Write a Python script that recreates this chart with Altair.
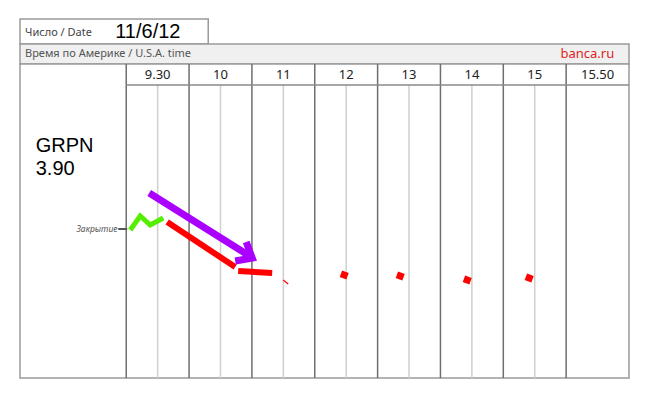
import altair as alt
import pandas as pd

# ---- data (x in hour-column units, y in chart rows from top) ----
col_labels = ["9.30", "10", "11", "12", "13", "14", "15", "15.50"]
col_bounds = [0, 1, 2, 3, 4, 5, 6, 7]
half_lines = [0.5, 1.5, 2.5, 3.5, 4.5, 5.5, 6.5]

green_x = [0.064, 0.223, 0.382, 0.589]
green_y = [211, 197, 206, 199]

red1_x = [0.652, 1.734]
red1_y = [203, 248]
red2_x = [1.782, 2.323]
red2_y = [252, 254]
red_thin_x = [2.498, 2.578]
red_thin_y = [261, 265]

purple_x = [0.366, 1.989]
purple_y = [174, 238]
head_x = [1.909, 2.005, 1.734]
head_y = [223, 239, 242]

square_x = [3.469, 4.36, 5.426, 6.412]
square_y = [256, 257, 261, 259]

ticker = "GRPN"
close_price = "3.90"
date_text = "11/6/12"

XMIN, XMAX = -1.69, 8.0
YMIN, YMAX = 0, 359

xs = alt.Scale(domain=[XMIN, XMAX], nice=False, zero=False)
ys = alt.Scale(domain=[YMIN, YMAX], nice=False, zero=False, reverse=True)


def X(f="x"):
    return alt.X(f"{f}:Q", scale=xs, axis=None)


def Y(f="y"):
    return alt.Y(f"{f}:Q", scale=ys, axis=None)


# frames
rects = pd.DataFrame([
    {"x": XMIN, "x2": 1.305, "y": 0, "y2": 25, "fill": "#ffffff"},
    {"x": XMIN, "x2": XMAX, "y": 25, "y2": 45, "fill": "#f0f0f0"},
    {"x": XMIN, "x2": XMAX, "y": 45, "y2": 359, "fill": "#ffffff"},
])
rect_layer = alt.Chart(rects).mark_rect(stroke="#9a9a9a", strokeWidth=1.5).encode(
    x=X(), x2="x2:Q", y=Y(), y2="y2:Q",
    fill=alt.Fill("fill:N", scale=None),
)

dark = pd.DataFrame({"x": col_bounds, "y": 45, "y2": 359})
dark_layer = alt.Chart(dark).mark_rule(color="#6e6e6e", strokeWidth=1.5).encode(
    x=X(), y=Y(), y2="y2:Q")

light = pd.DataFrame({"x": half_lines, "y": 66, "y2": 359})
light_layer = alt.Chart(light).mark_rule(color="#cfcfcf", strokeWidth=1.5).encode(
    x=X(), y=Y(), y2="y2:Q")

hline = pd.DataFrame({"x": [0], "x2": [XMAX], "y": [66]})
hline_layer = alt.Chart(hline).mark_rule(color="#8a8a8a", strokeWidth=1.5).encode(
    x=X(), x2="x2:Q", y=Y())

labels = pd.DataFrame({"x": [b + 0.5 for b in col_bounds], "y": 56, "t": col_labels})
label_layer = alt.Chart(labels).mark_text(
    font="Noto Sans", fontSize=13, color="#222222", baseline="middle", align="center"
).encode(x=X(), y=Y(), text="t:N")

texts = pd.DataFrame([
    {"x": -1.61, "y": 13.5, "t": "Число / Date", "s": 11, "c": "#444444", "f": "Noto Sans"},
    {"x": -0.175, "y": 12.5, "t": date_text, "s": 20, "c": "#000000", "f": "Liberation Sans"},
    {"x": -1.61, "y": 35, "t": "Время по Америке / U.S.A. time", "s": 11, "c": "#555555", "f": "Noto Sans"},
])
text_layers = []
for _, r in texts.iterrows():
    text_layers.append(
        alt.Chart(pd.DataFrame([r])).mark_text(
            font=r["f"], fontSize=int(r["s"]), color=r["c"], align="left", baseline="middle"
        ).encode(x=X(), y=Y(), text="t:N")
    )

brand = alt.Chart(pd.DataFrame({"x": [7.765], "y": [35], "t": ["banca.ru"]})).mark_text(
    font="Noto Sans", fontSize=13, color="#e2231a", align="right", baseline="middle"
).encode(x=X(), y=Y(), text="t:N")

ticker_layer = alt.Chart(pd.DataFrame({"x": [-1.44, -1.44], "y": [133, 156],
                                       "t": [ticker, close_price]})).mark_text(
    font="Liberation Sans", fontSize=20, color="#000000", align="left", baseline="alphabetic"
).encode(x=X(), y=Y(), text="t:N")

close_lbl = alt.Chart(pd.DataFrame({"x": [-0.14], "y": [210], "t": ["Закрытие"]})).mark_text(
    font="Noto Sans", fontSize=8.5, fontStyle="italic", color="#555555", align="right", baseline="middle"
).encode(x=X(), y=Y(), text="t:N")

close_tick = alt.Chart(pd.DataFrame({"x": [-0.127], "x2": [0.016], "y": [210]})).mark_rule(
    color="#555555", strokeWidth=2).encode(x=X(), x2="x2:Q", y=Y())


def line(xv, yv, color, w, cap="butt"):
    df = pd.DataFrame({"x": xv, "y": yv, "o": list(range(len(xv)))})
    return alt.Chart(df).mark_line(color=color, strokeWidth=w, strokeCap=cap,
                                   strokeJoin="miter").encode(
        x=X(), y=Y(), order="o:Q")


green = line(green_x, green_y, "#55ee00", 5)
red1 = line(red1_x, red1_y, "#ff0000", 6)
red2 = line(red2_x, red2_y, "#ff0000", 6)
red3 = line(red_thin_x, red_thin_y, "#ff0000", 1.2)
purple = line(purple_x, purple_y, "#aa00ff", 7)
head = line(head_x, head_y, "#aa00ff", 7)

squares = alt.Chart(pd.DataFrame({"x": square_x, "y": square_y})).mark_point(
    shape="square", filled=True, color="#ff0000", size=50, angle=20, opacity=1
).encode(x=X(), y=Y())

chart = alt.layer(
    rect_layer, light_layer, dark_layer, hline_layer, label_layer, *text_layers, brand,
    ticker_layer, close_lbl, close_tick, green, red1, red2, red3, purple, head, squares
).properties(
    width=609, height=359,
    autosize=alt.AutoSizeParams(type="none"),
    padding={"left": 20, "top": 19, "right": 19, "bottom": 19},
).configure_view(stroke=None)

chart.save("out.html", embed_options={"renderer": "svg", "actions": False})
